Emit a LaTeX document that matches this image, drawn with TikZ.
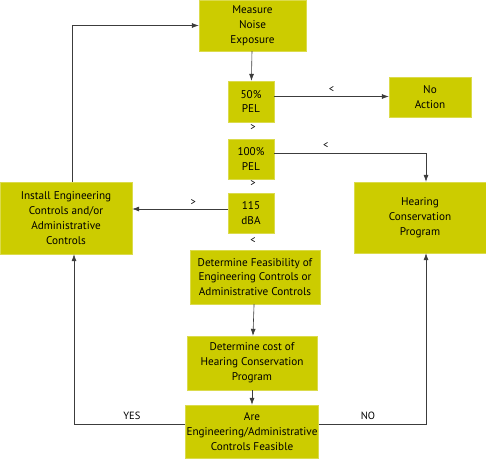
\documentclass[tikz,border=0pt]{standalone}
\usepackage{fontspec}
\setmainfont{PT Sans}
\usepackage{tikz}
\usepackage{xcolor}
\usetikzlibrary{arrows.meta}
\definecolor{boxgreen}{RGB}{204,204,0}
\definecolor{linegray}{RGB}{60,60,60}
\tikzset{
    flow-box/.style = {fill=boxgreen, draw=boxgreen!70!white, thin, rectangle, inner sep=1pt, align=center, font=\fontsize{11.2}{14.8}\selectfont},
    flow-arrow/.style = {draw=linegray, semithick, -{Latex[length=7pt,width=5pt]}},
    flow-label/.style = {font=\fontsize{10.5}{12}\selectfont, inner sep=1pt},
}

\begin{document}
\begin{tikzpicture}[x=1pt, y=-1pt]
\useasboundingbox (0,0) rectangle (486,460);
% boxes
\node[flow-box, minimum width=107pt, minimum height=51pt] (measure) at (252.5,25.5) {Measure\\Noise\\Exposure};
\node[flow-box, minimum width=46pt, minimum height=41pt] (pel50) at (251,101.5) {50\%\\PEL};
\node[flow-box, minimum width=82pt, minimum height=40pt] (noaction) at (430,97) {No\\Action};
\node[flow-box, minimum width=46pt, minimum height=40pt] (pel100) at (251,159) {100\%\\PEL};
\node[flow-box, minimum width=46pt, minimum height=40pt] (dba) at (251,213) {115\\dBA};
\node[flow-box, minimum width=132pt, minimum height=71pt] (hcp) at (420,217.5) {Hearing\\Conservation\\Program};
\node[flow-box, minimum width=132pt, minimum height=72pt] (install) at (66,218) {Install Engineering\\Controls and/or\\Administrative\\Controls};
\node[flow-box, minimum width=130pt, minimum height=54pt] (feas) at (255,277) {Determine Feasibility of\\Engineering Controls or\\Administrative Controls};
\node[flow-box, minimum width=130pt, minimum height=54pt] (cost) at (252,363) {Determine cost of\\Hearing Conservation\\Program};
\node[flow-box, minimum width=130pt, minimum height=53pt] (feasible) at (252,431.5) {Are\\Engineering/Administrative\\Controls Feasible};

% comparison marks
\node[flow-label] (gt50) at (253,128) {>};
\node[flow-label] (gt100) at (253,184) {>};
\node[flow-label] (lt115) at (253,241) {<};

% connectors
\draw[flow-arrow] (measure) -- (pel50);
\draw[flow-arrow] ([yshift=5pt]pel50.east) -- node[flow-label, above=3pt] {<} ([yshift=5pt]pel50.east -| noaction.west);
\draw[flow-arrow] ([yshift=6pt]pel100.east) -| node[flow-label, above=3pt, pos=0.17] {<} ([xshift=6pt]hcp.north);
\draw[flow-arrow] ([yshift=4pt]dba.west) -- node[flow-label, above=2pt, pos=0.36] {>} ([yshift=4pt]dba.west -| install.east);
\draw[flow-arrow] (feas) -- (cost);
\draw[flow-arrow] (cost) -- (feasible);
\draw[flow-arrow] ([yshift=7pt]feasible.west) -| node[flow-label, above=4pt, pos=0.24] {YES} ([xshift=8pt]install.south);
\draw[flow-arrow] ([yshift=7pt]feasible.east) -| node[flow-label, above=4pt, pos=0.23] {NO} ([xshift=6pt]hcp.south);
\draw[flow-arrow] ([xshift=6pt]install.north) |- (measure.west);
\end{tikzpicture}
\end{document}
